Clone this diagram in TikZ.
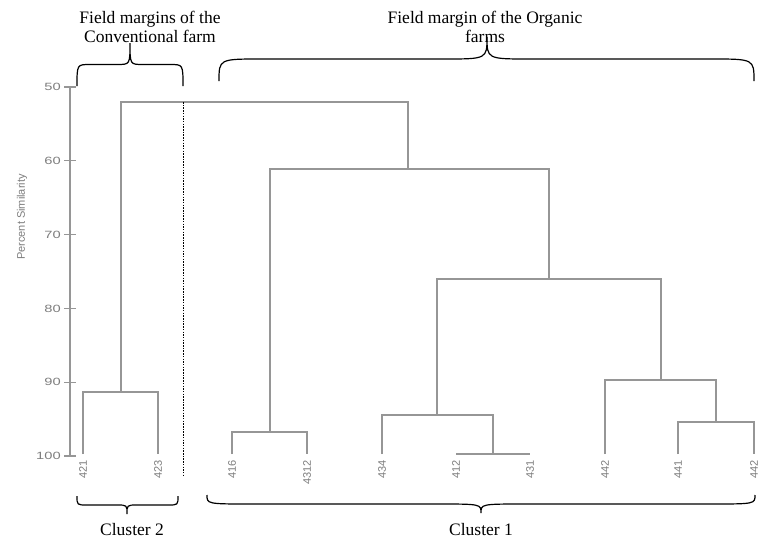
\documentclass[tikz,border=0pt]{standalone}
\usepackage{fontspec}
\setmainfont{Liberation Serif}
\newfontfamily\plotfont{Liberation Sans}
\definecolor{linkgray}{RGB}{150,150,150}
\definecolor{labelgray}{RGB}{125,125,125}
\tikzset{
  link/.style={draw=linkgray,line width=1.8pt},
  axisline/.style={draw=linkgray,line width=1.3pt},
  ticklabel/.style={anchor=east,text=labelgray,font=\plotfont\fontsize{10.5}{12}\selectfont,xscale=1.4,inner sep=0pt},
  leaflabel/.style={anchor=east,rotate=90,text=labelgray,font=\plotfont\fontsize{11}{12}\selectfont,inner sep=0pt},
  curly/.style={draw=black,line width=1.2pt},
  caption/.style={font=\fontsize{17.5}{19.5}\selectfont,align=center,inner sep=0pt}
}
\begin{document}
\begin{tikzpicture}[x=1pt,y=-1pt]
    \useasboundingbox (0,0) rectangle (763,541);
    \draw[axisline] (70,87) -- (70,456);
    \foreach \v in {50,60,...,100} {
        \pgfmathsetmacro\ty{87+7.38*(\v-50)}
        \draw[axisline] (64,\ty) -- (76,\ty);
        \node[ticklabel] (tick\v) at (61,\ty) {\v};
    }
    \node[rotate=90,text=labelgray,font=\plotfont\fontsize{11}{12}\selectfont] (ylab) at (22,217) {Percent Similarity};
    \foreach \x/\lab/\name in {83/421/a,158/423/b,232/416/c,307/4312/d,382/434/e,456/412/f,530/431/g,605/442/h,678/441/i,754/442/j} {
        \coordinate (\name) at (\x,454);
        \node[leaflabel] (t\name) at (\x,460) {\lab};
    }
    \coordinate (m1) at (121,392);
    \coordinate (m2) at (270,432);
    \coordinate (m3) at (493,454);
    \coordinate (m4) at (437,415);
    \coordinate (m5) at (716,422);
    \coordinate (m6) at (661,380);
    \coordinate (m7) at (549,279);
    \coordinate (m8) at (408,169);
    \coordinate (m9) at (265,102);
    \draw[link] (a) |- (m1) -| (b);
    \draw[link] (c) |- (m2) -| (d);
    \draw[link] (f) |- (m3) -| (g);
    \draw[link] (e) |- (m4) -| (m3);
    \draw[link] (i) |- (m5) -| (j);
    \draw[link] (h) |- (m6) -| (m5);
    \draw[link] (m4) |- (m7) -| (m6);
    \draw[link] (m2) |- (m8) -| (m7);
    \draw[link] (m1) |- (m9) -| (m8);
    \draw[line width=0.6pt,dash pattern=on 1.5pt off 1.2pt] (183,102) -- (183,477);
    \foreach \xa/\xb/\xt/\ye/\yt/\r in {77/183/130/86/43/13,219/754/487/81/37/43,77/178/127/496/514/10,207/755/481/495/513/45} {
        \pgfmathsetmacro\ym{(\ye+\yt)/2}
        \draw[curly] (\xa,\ye) .. controls (\xa,\ym) .. ({\xa+\r},\ym) -- ({\xt-\r},\ym)
            .. controls (\xt,\ym) .. (\xt,\yt) .. controls (\xt,\ym) .. ({\xt+\r},\ym)
            -- ({\xb-\r},\ym) .. controls (\xb,\ym) .. (\xb,\ye);
    }
    \node[caption] (conv) at (150,27) {Field margins of the\\Conventional farm};
    \node[caption] (org) at (485,27) {Field margin of the Organic\\farms};
    \node[caption,anchor=base] (cl2) at (132,535) {Cluster 2};
    \node[caption,anchor=base] (cl1) at (481,535) {Cluster 1};
\end{tikzpicture}
\end{document}
